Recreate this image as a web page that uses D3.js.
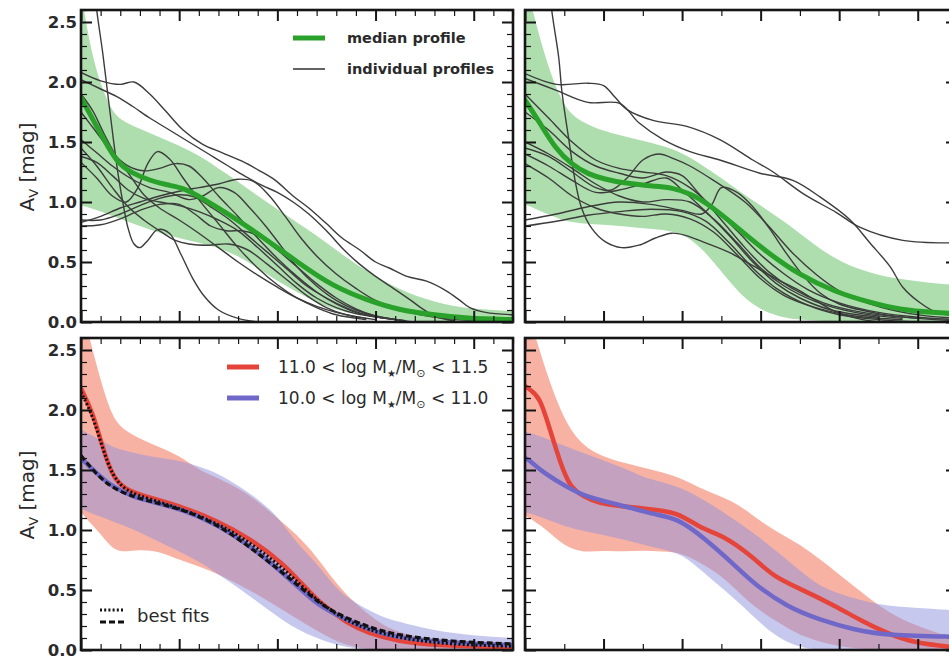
<!DOCTYPE html>
<html>
<head>
<meta charset="utf-8">
<script src="https://cdn.jsdelivr.net/npm/d3@7"></script>
<style>
  html, body { margin: 0; padding: 0; background: #fff; }
  svg { display: block; }
  text { font-family: "DejaVu Sans", sans-serif; }
</style>
</head>
<body>
<svg id="fig" width="949" height="657"></svg>
<script>
// ---------------- data ----------------
// A_V axis
const yMajorTicks = [0, 0.5, 1.0, 1.5, 2.0, 2.5];
const yTickLabels = ["0.0", "0.5", "1.0", "1.5", "2.0", "2.5"];
// radius axes: physical radius (left column) and scaled radius (right column)
const xMajorKpc = [0, 5, 10, 15, 20];
const xMajorRe = [0, 1, 2, 3, 4, 5];

// median profile + 16-84 percentile band, physical radius
const medianKpc = [[0,1.87],[1,1.57],[1.8,1.33],[2.6,1.24],[3.5,1.18],[4.4,1.14],[5.2,1.12],[6.1,1.04],[7.7,0.88],[9.5,0.68],[11.1,0.49],[12.8,0.30],[14.6,0.18],[16.2,0.10],[17.9,0.06],[19.6,0.03],[22,0.02]];
const bandKpcX  = [0,0.5,1,1.5,2,3,4,5,6,7,8,9,10,11,12,13,14,15,16,17,18,19,20,21,22];
const bandKpcHi = [2.75,2.26,1.98,1.78,1.68,1.61,1.54,1.47,1.39,1.28,1.17,1.05,0.94,0.83,0.72,0.6,0.48,0.38,0.29,0.22,0.17,0.13,0.11,0.1,0.09];
const bandKpcLo = [0.97,0.95,0.92,0.89,0.86,0.80,0.74,0.70,0.66,0.62,0.55,0.45,0.34,0.25,0.16,0.10,0.06,0.04,0.02,0.01,0,0,0,0,0];

// individual galaxy profiles, physical radius
const profilesKpc = [
  [[0.55,3.0],[0.8,2.6],[1.1,2.25],[1.4,1.85],[1.65,1.52],[1.9,1.22],[2.15,0.98],[2.4,0.78],[2.7,0.65],[3.0,0.62],[3.4,0.68],[3.9,0.77],[4.5,0.74],[5.1,0.56],[5.7,0.36],[6.3,0.21],[7.0,0.1],[8.0,0.03],[9.0,0.0]],
  [[0,2.08],[1,2.01],[2,1.98],[2.7,2.0],[3.5,1.9],[4.3,1.76],[5.2,1.6],[6.2,1.48],[7.2,1.41],[8.2,1.34],[9.1,1.26],[9.9,1.18],[10.8,1.05],[11.6,0.95],[12.5,0.82],[13.3,0.7],[14.2,0.6],[15,0.5],[15.7,0.45],[16.6,0.38],[17.6,0.34],[18.6,0.26],[19.3,0.18],[19.8,0.12],[20.6,0.08],[22,0.06]],
  [[0,2.02],[0.9,1.95],[1.8,1.88],[2.6,1.8],[3.5,1.7],[4.5,1.6],[5.5,1.5],[6.5,1.4],[7.5,1.3],[8.3,1.22],[9.2,1.14],[10,1.08],[10.8,1.0],[11.6,0.9],[12.5,0.76],[13.4,0.6],[14.2,0.48],[15,0.38],[16.1,0.26],[16.8,0.18],[17.3,0.12],[18,0.05],[19,0.01]],
  [[0,0.85],[1,0.85],[2,0.9],[3,0.97],[4,1.03],[5,1.06],[5.8,1.04],[6.6,0.96],[7.5,0.86],[8.5,0.72],[9.5,0.58],[10.5,0.44],[11.5,0.3],[12.5,0.2],[13.5,0.12],[14.5,0.06],[16,0.02],[17,0]],
  [[0,0.8],[1,0.81],[2,0.86],[3,0.93],[4,0.98],[5,0.98],[5.8,0.9],[6.6,0.8],[7.4,0.76],[8.2,0.76],[9,0.72],[10,0.6],[11,0.46],[12,0.32],[13,0.2],[14,0.11],[15,0.05],[16.5,0.01]],
  [[0,1.45],[0.8,1.3],[1.6,1.12],[2.4,0.96],[3.2,0.85],[4,0.76],[4.8,0.68],[5.5,0.65],[6.5,0.64],[7.5,0.65],[8.5,0.6],[9.5,0.48],[10.5,0.35],[11.5,0.22],[12.5,0.12],[13.5,0.06],[15,0.02]],
  [[0,1.75],[0.7,1.6],[1.5,1.43],[2.3,1.31],[3.2,1.26],[4,1.28],[4.8,1.32],[5.5,1.3],[6.2,1.2],[7,1.05],[8,0.88],[9,0.7],[10,0.53],[11,0.38],[12,0.25],[13,0.15],[14,0.08],[15.5,0.03]],
  [[0,1.52],[0.8,1.41],[1.6,1.3],[2.5,1.2],[3.5,1.12],[4.5,1.08],[5.5,1.02],[6.2,1.05],[7,1.12],[7.8,1.08],[8.6,0.95],[9.4,0.8],[10.2,0.63],[11,0.46],[12,0.3],[13,0.18],[14,0.1],[15,0.05],[16.5,0.01]],
  [[0,1.38],[0.8,1.33],[1.6,1.22],[2.4,1.1],[3.2,1.03],[4,1.0],[5,0.97],[6,0.92],[7,0.85],[8,0.76],[9,0.62],[10,0.47],[11,0.32],[12,0.2],[13,0.12],[14,0.07],[16,0.02]],
  [[0,1.9],[0.6,1.76],[1.2,1.56],[1.8,1.38],[2.5,1.22],[3.2,1.06],[4,0.95],[5,0.85],[6,0.74],[7,0.62],[8,0.5],[9,0.39],[10,0.29],[11,0.2],[12,0.13],[13,0.08],[14.5,0.03]],
  [[0,1.33],[0.8,1.2],[1.6,1.05],[2.3,1.0],[2.9,1.12],[3.4,1.32],[3.9,1.42],[4.5,1.36],[5.2,1.2],[6,1.02],[7,0.82],[8,0.62],[9,0.45],[10,0.31],[11,0.2],[12,0.12],[13,0.06],[14.5,0.02]],
  [[0,0.83],[1,0.88],[2,0.95],[3,1.0],[4,1.05],[5,1.09],[6,1.12],[7,1.15],[8,1.19],[8.8,1.17],[9.6,1.05],[10.4,0.88],[11.2,0.7],[12,0.55],[13,0.4],[14,0.28],[15,0.18],[16,0.12],[17,0.07],[18.5,0.03],[20,0.01]]
];

// median profile + band, scaled radius
const medianRe = [[0,1.85],[0.18,1.67],[0.38,1.45],[0.6,1.31],[0.81,1.23],[1.02,1.19],[1.23,1.16],[1.66,1.13],[1.87,1.12],[2.1,1.07],[2.3,1.0],[2.7,0.79],[3.1,0.57],[3.5,0.39],[3.95,0.25],[4.4,0.16],[4.8,0.1],[5.2,0.08],[5.5,0.07]];
const bandReX  = [0,0.25,0.5,0.75,1,1.25,1.5,1.75,2,2.25,2.5,2.75,3,3.25,3.5,3.75,4,4.25,4.5,4.75,5,5.25,5.5];
const bandReHi = [2.85,2.2,1.76,1.66,1.59,1.55,1.51,1.47,1.41,1.31,1.2,1.08,0.97,0.86,0.74,0.61,0.51,0.44,0.39,0.36,0.34,0.32,0.31];
const bandReLo = [0.98,0.91,0.84,0.82,0.81,0.80,0.78,0.77,0.74,0.62,0.42,0.22,0.10,0.04,0.02,0.01,0,0,0,0,0,0,0];

// individual galaxy profiles, scaled radius
const profilesRe = [
  [[0.28,3.0],[0.34,2.6],[0.43,2.2],[0.47,1.92],[0.56,1.51],[0.64,1.17],[0.72,0.95],[0.85,0.78],[1.02,0.67],[1.23,0.62],[1.45,0.64],[1.66,0.7],[1.87,0.74],[2.05,0.72],[2.3,0.66],[2.6,0.58],[2.9,0.47],[3.2,0.36],[3.5,0.26],[3.94,0.09],[4.3,0.02],[4.6,0]],
  [[0,2.07],[0.4,1.98],[0.8,1.99],[1.0,1.97],[1.15,1.87],[1.3,1.77],[1.63,1.68],[2.06,1.63],[2.48,1.52],[2.9,1.35],[3.16,1.25],[3.54,1.07],[3.97,0.91],[4.26,0.79],[4.81,0.68],[5.5,0.66]],
  [[0,2.03],[0.4,1.93],[0.8,1.83],[1.21,1.82],[1.45,1.66],[1.76,1.52],[2.1,1.42],[2.48,1.35],[2.99,1.24],[3.41,1.18],[3.76,1.04],[4.14,0.85],[4.39,0.66],[4.65,0.46],[4.81,0.29],[5.03,0.16],[5.24,0.08],[5.5,0.05]],
  [[0,0.85],[0.4,0.9],[0.8,0.96],[1.2,1.0],[1.6,0.98],[2.0,0.93],[2.25,0.9],[2.38,0.98],[2.5,1.12],[2.7,1.08],[2.9,0.96],[3.1,0.79],[3.33,0.57],[3.55,0.38],[3.76,0.24],[4.0,0.15],[4.5,0.07],[5.0,0.03],[5.5,0.01]],
  [[0,0.8],[0.4,0.84],[0.8,0.89],[1.2,0.92],[1.6,0.94],[2.0,0.92],[2.3,0.84],[2.6,0.66],[2.9,0.45],[3.2,0.28],[3.6,0.14],[4.0,0.06],[4.5,0.02],[5,0]],
  [[0,1.9],[0.3,1.7],[0.6,1.5],[0.9,1.35],[1.2,1.28],[1.5,1.25],[1.8,1.22],[2.1,1.12],[2.4,0.95],[2.7,0.76],[3.0,0.56],[3.3,0.4],[3.6,0.27],[4.0,0.16],[4.5,0.08],[5.0,0.04],[5.5,0.02]],
  [[0,1.75],[0.3,1.6],[0.6,1.42],[0.9,1.3],[1.2,1.24],[1.5,1.2],[1.8,1.25],[2.0,1.22],[2.2,1.08],[2.5,0.85],[2.8,0.62],[3.1,0.42],[3.4,0.28],[3.8,0.16],[4.3,0.08],[5,0.03]],
  [[0,1.5],[0.3,1.4],[0.6,1.28],[0.9,1.15],[1.2,1.05],[1.5,1.0],[1.8,1.02],[2.1,1.0],[2.4,0.86],[2.7,0.66],[3.0,0.45],[3.3,0.3],[3.7,0.17],[4.2,0.08],[4.8,0.03]],
  [[0,1.4],[0.3,1.3],[0.6,1.18],[0.9,1.08],[1.2,1.1],[1.5,1.15],[1.8,1.2],[2.0,1.1],[2.3,0.92],[2.6,0.72],[2.9,0.5],[3.2,0.32],[3.5,0.2],[3.9,0.1],[4.5,0.04]],
  [[0,1.32],[0.3,1.2],[0.6,1.05],[0.9,0.95],[1.2,0.9],[1.5,0.88],[1.8,0.9],[2.1,0.86],[2.4,0.75],[2.7,0.56],[3.0,0.36],[3.3,0.22],[3.7,0.12],[4.2,0.05],[4.8,0.02]],
  [[0,1.45],[0.3,1.38],[0.6,1.25],[0.9,1.12],[1.1,1.1],[1.3,1.2],[1.5,1.35],[1.7,1.4],[1.9,1.36],[2.1,1.3],[2.4,1.18],[2.8,1.0],[3.1,0.8],[3.4,0.58],[3.7,0.4],[4.0,0.26],[4.4,0.15],[4.9,0.07],[5.5,0.03]]
];

// stellar-mass bins, physical radius
const highMassKpc = [[0,2.18],[0.6,1.98],[1.1,1.69],[1.6,1.44],[2.3,1.33],[3.5,1.27],[5.2,1.19],[6.9,1.08],[8.6,0.93],[10.3,0.72],[11.2,0.56],[12,0.42],[12.8,0.32],[13.6,0.22],[14.6,0.14],[16.2,0.07],[17.9,0.04],[22,0.02]];
const lowMassKpc  = [[0,1.6],[0.8,1.47],[1.6,1.36],[2.6,1.28],[3.5,1.24],[5.2,1.17],[6.9,1.05],[8.6,0.87],[10.3,0.64],[12,0.38],[12.8,0.31],[14.6,0.17],[16.2,0.1],[18.8,0.06],[22,0.04]];
const highFitKpc  = [[0,2.15],[0.6,1.95],[1.1,1.68],[1.6,1.45],[2.3,1.32],[3.5,1.26],[5.2,1.17],[6.9,1.06],[8.6,0.9],[10.3,0.68],[11.2,0.54],[12,0.42],[12.8,0.32],[13.6,0.24],[14.6,0.17],[16.2,0.1],[18,0.06],[20,0.04],[22,0.03]];
const lowFitKpc   = [[0,1.62],[0.8,1.46],[1.6,1.35],[2.6,1.28],[3.5,1.24],[5.2,1.17],[6.9,1.05],[8.6,0.86],[10.3,0.64],[12,0.41],[12.8,0.32],[14.6,0.19],[16.2,0.12],[18.8,0.07],[22,0.05]];
const massBandKpcX = [0,0.5,1,1.5,2,3,4,5,6,7,8,9,10,11,12,13,14,15,16,18,20,22];
const highBandKpcHi = [2.9,2.55,2.25,1.98,1.85,1.76,1.69,1.62,1.5,1.43,1.35,1.24,1.1,0.96,0.78,0.55,0.38,0.25,0.15,0.08,0.06,0.05];
const highBandKpcLo = [1.15,1.05,0.97,0.86,0.81,0.84,0.82,0.75,0.7,0.63,0.55,0.46,0.36,0.26,0.16,0.07,0.02,0,0,0,0,0];
const lowBandKpcHi  = [1.84,1.79,1.75,1.7,1.67,1.63,1.6,1.58,1.53,1.47,1.37,1.26,1.12,0.88,0.73,0.5,0.39,0.3,0.24,0.16,0.12,0.1];
const lowBandKpcLo  = [1.18,1.14,1.11,1.08,1.05,0.98,0.9,0.82,0.74,0.63,0.52,0.4,0.28,0.17,0.1,0.04,0.01,0,0,0,0,0];

// stellar-mass bins, scaled radius
const highMassRe = [[0,2.2],[0.06,2.17],[0.19,2.11],[0.32,1.83],[0.45,1.56],[0.57,1.36],[0.74,1.28],[0.95,1.22],[1.21,1.2],[1.63,1.17],[1.94,1.15],[2.27,1.0],[2.48,0.97],[2.9,0.78],[3.16,0.61],[3.54,0.5],[3.97,0.36],[4.26,0.25],[4.61,0.14],[4.94,0.06],[5.5,0.02]];
const lowMassRe  = [[0,1.6],[0.06,1.58],[0.19,1.5],[0.45,1.39],[0.74,1.28],[1.21,1.21],[1.63,1.13],[1.94,1.1],[2.27,0.94],[2.7,0.69],[2.9,0.56],[3.33,0.36],[3.76,0.25],[4.18,0.17],[4.61,0.12],[5.5,0.11]];
const massBandReX  = [0,0.25,0.5,0.75,1,1.25,1.5,1.75,2,2.25,2.5,2.75,3,3.25,3.5,3.75,4,4.25,4.5,4.75,5,5.25,5.5];
const highBandReHi = [2.9,2.35,1.9,1.69,1.61,1.56,1.52,1.48,1.43,1.34,1.28,1.2,1.07,0.97,0.88,0.76,0.63,0.5,0.37,0.27,0.2,0.14,0.1];
const highBandReLo = [1.12,1.02,0.86,0.81,0.83,0.82,0.83,0.82,0.81,0.72,0.62,0.46,0.32,0.22,0.12,0.07,0.03,0.01,0,0,0,0,0];
const lowBandReHi  = [1.82,1.77,1.7,1.64,1.58,1.52,1.44,1.4,1.35,1.26,1.16,1.05,0.93,0.8,0.66,0.53,0.47,0.42,0.38,0.36,0.35,0.34,0.33];
const lowBandReLo  = [1.15,1.1,1.03,0.99,0.96,0.92,0.88,0.84,0.8,0.66,0.52,0.38,0.22,0.09,0.02,0,0,0,0,0,0,0,0];

// legend entries
const profileLegend = ["median profile", "individual profiles"];
const massLegendLo = ["11.0", "10.0"];
const massLegendHi = ["11.5", "11.0"];
const fitLegend = "best fits";

// ---------------- layout ----------------
const PW = 432, PH = 312;
const COLS = [81, 525];
const ROWS = [10, 338];

const C = {
  frame: "#151515",
  gray: "#3c3c3c",
  green: "#2aa12a",
  greenBand: "#aedeae",
  red: "#e5443a",
  redBand: "#f7a493",
  blue: "#7068c8",
  blueBand: "#8f92dc"
};

const svg = d3.select("#fig");

function panel(col, row, xDomain, xMajor, xMinorStep, showYLabels) {
  const left = COLS[col], top = ROWS[row];
  const x = d3.scaleLinear().domain(xDomain).range([left, left + PW]);
  const y = d3.scaleLinear().domain([0, 2.6]).range([top + PH, top]);
  const id = `clip-${col}-${row}`;
  svg.append("clipPath").attr("id", id)
    .append("rect").attr("x", left).attr("y", top).attr("width", PW).attr("height", PH);
  const plot = svg.append("g").attr("clip-path", `url(#${id})`);
  return { x, y, left, top, plot, xMajor, xMinorStep, showYLabels, xDomain };
}

function lineGen(p, curve) {
  return d3.line().x(d => p.x(d[0])).y(d => p.y(d[1])).curve(curve || d3.curveBasis);
}
function band(p, xs, lo, hi, fill, opacity) {
  const rows = xs.map((v, i) => ({ r: v, lo: lo[i], hi: hi[i] }));
  p.plot.append("path").datum(rows)
    .attr("d", d3.area().x(d => p.x(d.r)).y0(d => p.y(d.lo)).y1(d => p.y(d.hi)).curve(d3.curveBasis))
    .attr("fill", fill).attr("fill-opacity", opacity).attr("stroke", "none");
}
function curve(p, data, color, width, dash, curveType) {
  p.plot.append("path").datum(data)
    .attr("d", lineGen(p, curveType))
    .attr("fill", "none").attr("stroke", color).attr("stroke-width", width)
    .attr("stroke-linejoin", "round").attr("stroke-linecap", dash ? "butt" : "round")
    .attr("stroke-dasharray", dash || null);
}

function axes(p) {
  const g = svg.append("g");
  const yMinor = d3.range(0, 2.61, 0.1).filter(v => Math.abs(v * 2 - Math.round(v * 2)) > 1e-6);
  const xMinor = d3.range(p.xDomain[0], p.xDomain[1] + 1e-6, p.xMinorStep)
    .filter(v => !p.xMajor.some(m => Math.abs(m - v) < 1e-6));
  const specs = [
    [d3.axisLeft(p.y), `translate(${p.left},0)`, yMajorTicks, yMinor],
    [d3.axisRight(p.y), `translate(${p.left + PW},0)`, yMajorTicks, yMinor],
    [d3.axisTop(p.x), `translate(0,${p.top})`, p.xMajor, xMinor],
    [d3.axisBottom(p.x), `translate(0,${p.top + PH})`, p.xMajor, xMinor]
  ];
  specs.forEach(([ax, tr, major, minor]) => {
    const a1 = g.append("g").attr("transform", tr)
      .call(ax.tickValues(major).tickSize(-11).tickFormat(""));
    a1.selectAll("line").attr("stroke", C.frame).attr("stroke-width", 2);
    a1.select(".domain").remove();
    const a2 = g.append("g").attr("transform", tr)
      .call(ax.tickValues(minor).tickSize(-6).tickFormat(""));
    a2.selectAll("line").attr("stroke", C.frame).attr("stroke-width", 1.2);
    a2.select(".domain").remove();
  });
  if (p.showYLabels) {
    const lab = g.append("g").attr("transform", `translate(${p.left},0)`)
      .call(d3.axisLeft(p.y).tickValues(yMajorTicks).tickSize(0).tickPadding(4)
        .tickFormat((d, i) => yTickLabels[i]));
    lab.select(".domain").remove();
    lab.selectAll("text").attr("font-size", 16.5).attr("font-weight", "bold")
      .attr("fill", "#2a2a2a").attr("font-family", "DejaVu Sans, sans-serif");
    // axis title
    const t = svg.append("text")
      .attr("transform", `translate(27,${p.top + 157}) rotate(-90)`)
      .attr("text-anchor", "middle").attr("dy", "0.35em")
      .attr("font-size", 20).attr("fill", "#2a2a2a");
    t.append("tspan").text("A");
    t.append("tspan").attr("font-size", 13).attr("dy", 4).text("V");
    t.append("tspan").attr("dy", -4).text(" [mag]");
  }
  svg.append("rect").attr("x", p.left).attr("y", p.top).attr("width", PW).attr("height", PH)
    .attr("fill", "none").attr("stroke", C.frame).attr("stroke-width", 2.6);
}

// ---------------- top row: individual galaxies ----------------
const tl = panel(0, 0, [0, 22], xMajorKpc, 1, true);
const tr = panel(1, 0, [0, 5.5], xMajorRe, 0.5, false);

[[tl, bandKpcX, bandKpcLo, bandKpcHi, profilesKpc, medianKpc],
 [tr, bandReX, bandReLo, bandReHi, profilesRe, medianRe]].forEach(([p, bx, lo, hi, profs, med]) => {
  band(p, bx, lo, hi, C.greenBand, 1);
  profs.forEach(pr => curve(p, pr, C.gray, 1.4, null, d3.curveCatmullRom));
  curve(p, med, C.green, 5);
});

// ---------------- bottom row: stellar-mass bins ----------------
const bl = panel(0, 1, [0, 22], xMajorKpc, 1, true);
const br = panel(1, 1, [0, 5.5], xMajorRe, 0.5, false);

band(bl, massBandKpcX, highBandKpcLo, highBandKpcHi, C.redBand, 0.85);
band(bl, massBandKpcX, lowBandKpcLo, lowBandKpcHi, C.blueBand, 0.5);
curve(bl, highMassKpc, C.red, 4.5);
curve(bl, lowMassKpc, C.blue, 4.5);
curve(bl, highFitKpc, "#111", 3, "2,2.2");
curve(bl, lowFitKpc, "#111", 3.2, "6,3");

band(br, massBandReX, highBandReLo, highBandReHi, C.redBand, 0.85);
band(br, massBandReX, lowBandReLo, lowBandReHi, C.blueBand, 0.5);
curve(br, highMassRe, C.red, 4.5);
curve(br, lowMassRe, C.blue, 4.5);

[tl, tr, bl, br].forEach(axes);

// ---------------- legends ----------------
const leg1 = svg.append("g");
[[C.green, 5], [C.gray, 1.6]].forEach(([col, w], i) => {
  const yy = 38 + i * 31;
  leg1.append("line").attr("x1", 293).attr("x2", 325).attr("y1", yy).attr("y2", yy)
    .attr("stroke", col).attr("stroke-width", w);
  leg1.append("text").attr("x", 347).attr("y", yy).attr("dy", "0.33em")
    .attr("font-size", 14.5).attr("font-weight", "bold").attr("fill", "#2a2a2a")
    .text(profileLegend[i]);
});

const leg2 = svg.append("g");
[C.red, C.blue].forEach((col, i) => {
  const yy = 367 + i * 31;
  leg2.append("line").attr("x1", 227).attr("x2", 259).attr("y1", yy).attr("y2", yy)
    .attr("stroke", col).attr("stroke-width", 5);
  const t = leg2.append("text").attr("x", 278).attr("y", yy).attr("dy", "0.35em")
    .attr("font-size", 17).attr("fill", "#2a2a2a");
  t.append("tspan").text(`${massLegendLo[i]} < log M`);
  t.append("tspan").attr("font-size", 10).attr("dy", 4).text("★");
  t.append("tspan").attr("dy", -4).text("/M");
  t.append("tspan").attr("font-size", 11).attr("dy", 4).text("⊙");
  t.append("tspan").attr("dy", -4).text(` < ${massLegendHi[i]}`);
});

const leg3 = svg.append("g");
leg3.append("line").attr("x1", 100).attr("x2", 125).attr("y1", 610).attr("y2", 610)
  .attr("stroke", "#111").attr("stroke-width", 3).attr("stroke-dasharray", "2,2.2");
leg3.append("line").attr("x1", 100).attr("x2", 125).attr("y1", 622).attr("y2", 622)
  .attr("stroke", "#111").attr("stroke-width", 3).attr("stroke-dasharray", "6,3");
leg3.append("text").attr("x", 137).attr("y", 616).attr("dy", "0.35em")
  .attr("font-size", 18).attr("fill", "#2a2a2a").text(fitLegend);
</script>
</body>
</html>
